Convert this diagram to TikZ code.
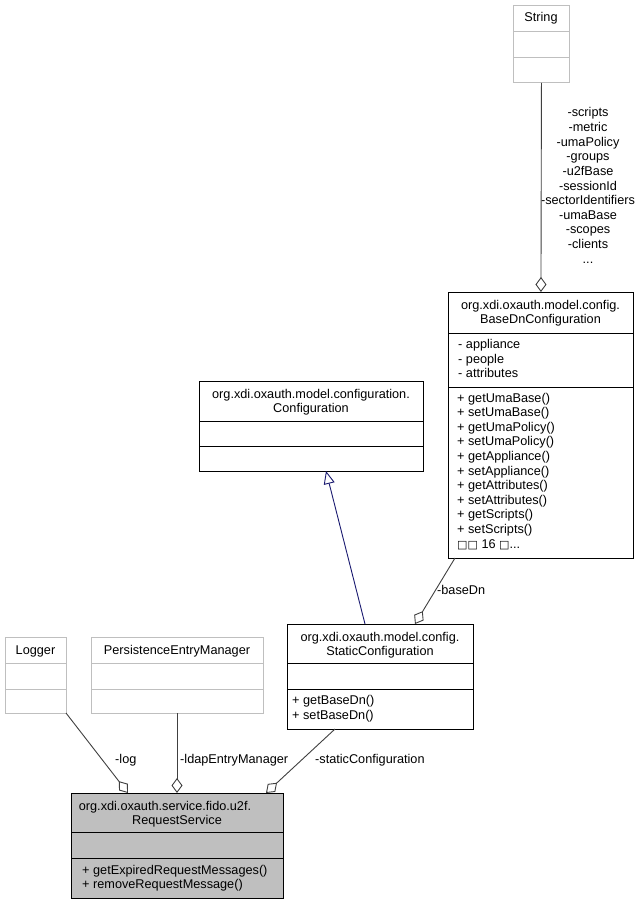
\documentclass[tikz,border=0pt]{standalone}
\usepackage{fontspec}
\setmainfont{Liberation Sans}
\newfontfamily\dejavu{DejaVu Sans}
\usetikzlibrary{arrows.meta}
\definecolor{edgegray}{HTML}{404040}
\definecolor{lightborder}{HTML}{BFBFBF}
\definecolor{rsfill}{HTML}{BFBFBF}
\definecolor{inhblue}{HTML}{191970}
\tikzset{
  cls/.style={draw=black, line width=0.9pt, inner sep=0pt, anchor=north west},
  ghost/.style={draw=lightborder, line width=0.9pt, inner sep=0pt, anchor=north west},
  txt/.style={inner sep=0pt, anchor=base, font=\fontsize{12.7}{14.6}\selectfont},
  ltxt/.style={txt, anchor=base west},
  divider/.style={draw=black, line width=0.9pt},
  gdivider/.style={draw=lightborder, line width=0.9pt},
  agg/.style={draw=edgegray, line width=0.9pt, -{Diamond[length=15pt, width=11pt, fill=white, line width=0.9pt]}},
  inh/.style={draw=inhblue, line width=0.9pt, -{Triangle[length=13pt, width=11pt, fill=white, line width=0.9pt]}}
}
\begin{document}
\begin{tikzpicture}[x=1pt,y=-1pt]
\useasboundingbox (0,0) rectangle (643,904);
\fill[white] (0,0) rectangle (643,904);

% String
\node[ghost, minimum width=56pt, minimum height=77pt] (string) at (513,5) {};
\draw[gdivider] (513,31) -- (569,31);
\draw[gdivider] (513,57) -- (569,57);
\node[txt] (stringt) at (541,22) {String};

% BaseDnConfiguration
\node[cls, minimum width=185pt, minimum height=266pt] (basedn) at (448,292) {};
\draw[divider] (448,333) -- (633,333);
\draw[divider] (448,387) -- (633,387);
\node[txt] (bdt1) at (540.5,309) {org.xdi.oxauth.model.config.};
\node[txt] (bdt2) at (540.5,323.6) {BaseDnConfiguration};
\node[ltxt] (bda1) at (458,348.5) {- appliance};
\node[ltxt] (bda2) at (458,363.1) {- people};
\node[ltxt] (bda3) at (458,377.7) {- attributes};
\node[ltxt] (bdm1) at (457,402) {+ getUmaBase()};
\node[ltxt] (bdm2) at (457,416.6) {+ setUmaBase()};
\node[ltxt] (bdm3) at (457,431.2) {+ getUmaPolicy()};
\node[ltxt] (bdm4) at (457,445.8) {+ setUmaPolicy()};
\node[ltxt] (bdm5) at (457,460.4) {+ getAppliance()};
\node[ltxt] (bdm6) at (457,475) {+ setAppliance()};
\node[ltxt] (bdm7) at (457,489.6) {+ getAttributes()};
\node[ltxt] (bdm8) at (457,504.2) {+ setAttributes()};
\node[ltxt] (bdm9) at (457,518.8) {+ getScripts()};
\node[ltxt] (bdm10) at (457,533.4) {+ setScripts()};
\node[ltxt] (bdm11) at (457,548) {{\dejavu\fontsize{11}{14}\selectfont □□} 16 {\dejavu\fontsize{11}{14}\selectfont □}...};

% String labels
\node[txt] (sl1) at (588,117) {-scripts};
\node[txt] (sl2) at (588,131.6) {-metric};
\node[txt] (sl3) at (588,146.2) {-umaPolicy};
\node[txt] (sl4) at (588,160.8) {-groups};
\node[txt] (sl5) at (588,175.4) {-u2fBase};
\node[txt] (sl6) at (588,190) {-sessionId};
\node[txt] (sl7) at (588,204.6) {-sectorIdentifiers};
\node[txt] (sl8) at (588,219.2) {-umaBase};
\node[txt] (sl9) at (588,233.8) {-scopes};
\node[txt] (sl10) at (588,248.4) {-clients};
\node[txt] (sl11) at (588,263) {...};

% Configuration
\node[cls, minimum width=224pt, minimum height=90pt] (config) at (199,381) {};
\draw[divider] (199,421) -- (423,421);
\draw[divider] (199,446) -- (423,446);
\node[txt] (ct1) at (311,398) {org.xdi.oxauth.model.configuration.};
\node[txt] (ct2) at (311,412.6) {Configuration};

% StaticConfiguration
\node[cls, minimum width=186pt, minimum height=105pt] (static) at (287,624) {};
\draw[divider] (287,663) -- (473,663);
\draw[divider] (287,689) -- (473,689);
\node[txt] (st1) at (380,641) {org.xdi.oxauth.model.config.};
\node[txt] (st2) at (380,655.6) {StaticConfiguration};
\node[ltxt] (sm1) at (292,704.5) {+ getBaseDn()};
\node[ltxt] (sm2) at (292,719.1) {+ setBaseDn()};

% Logger
\node[ghost, minimum width=61pt, minimum height=76pt] (logger) at (5,637) {};
\draw[gdivider] (5,663) -- (66,663);
\draw[gdivider] (5,689) -- (66,689);
\node[txt] (lt) at (35.5,654) {Logger};

% PersistenceEntryManager
\node[ghost, minimum width=172pt, minimum height=76pt] (pem) at (91,637) {};
\draw[gdivider] (91,663) -- (263,663);
\draw[gdivider] (91,689) -- (263,689);
\node[txt] (pt) at (177,654) {PersistenceEntryManager};

% RequestService
\node[cls, fill=rsfill, minimum width=212pt, minimum height=105pt] (rs) at (71,793) {};
\draw[divider] (71,832) -- (283,832);
\draw[divider] (71,858) -- (283,858);
\node[txt] (rt1) at (165,810) {org.xdi.oxauth.service.fido.u2f.};
\node[txt] (rt2) at (177,824.6) {RequestService};
\node[ltxt] (rm1) at (82,874) {+ getExpiredRequestMessages()};
\node[ltxt] (rm2) at (82,888.6) {+ removeRequestMessage()};

% connector end points
\coordinate (bd0) at (455,558);
\coordinate (bd1) at (415,624);
\coordinate (in0) at (365,624);
\coordinate (in1) at (326,471);
\coordinate (lg0) at (66,713);
\coordinate (lg1) at (128,793);
\coordinate (pm0) at (177,713);
\coordinate (pm1) at (177,793);
\coordinate (sc0) at (335,729);
\coordinate (sc1) at (266,793);

% connectors
\draw[agg] (string.south) -- (basedn.north);
\draw[agg] (bd0) -- (bd1);
\draw[inh] (in0) -- (in1);
\draw[agg] (lg0) -- (lg1);
\draw[agg] (pm0) -- (pm1);
\draw[agg] (sc0) -- (sc1);

% connector labels
\node[ltxt] (lbd) at (437,594) {-baseDn};
\node[ltxt] (llog) at (115,763) {-log};
\node[ltxt] (lpem) at (180,763) {-ldapEntryManager};
\node[ltxt] (lsc) at (315,763) {-staticConfiguration};
\end{tikzpicture}
\end{document}
